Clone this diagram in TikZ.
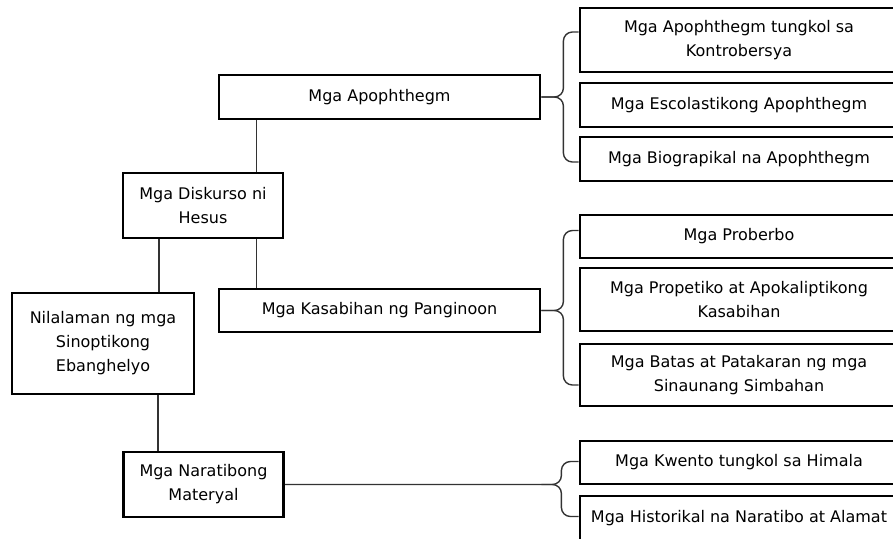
\documentclass[tikz,border=0pt]{standalone}
\usepackage{fontspec}
\setmainfont{DejaVu Sans}
\usetikzlibrary{calc}

\begin{document}
\begin{tikzpicture}[x=1pt,y=-1pt,
	box/.style={draw,rectangle,line width=2.8pt,align=center,inner sep=2pt,font=\fontsize{16}{24}\selectfont},
	link/.style={line width=1.4pt,black!80,rounded corners=9pt}]
	\useasboundingbox (0,0) rectangle (893,538);
	\node[box,minimum width=182,minimum height=101] (nil) at (103,343.5) {Nilalaman ng mga\\Sinoptikong\\Ebanghelyo};
	\node[box,minimum width=160,minimum height=65] (disk) at (203,205.5) {Mga Diskurso ni\\Hesus};
	\node[box,minimum width=160,minimum height=65] (narr) at (203.5,484.5) {Mga Naratibong\\Materyal};
	\node[box,minimum width=321,minimum height=44] (apo) at (379.5,97) {Mga Apophthegm};
	\node[box,minimum width=321,minimum height=43] (kas) at (379.5,310.5) {Mga Kasabihan ng Panginoon};
	\node[box,minimum width=318,minimum height=64] (r1) at (739,40) {Mga Apophthegm tungkol sa\\Kontrobersya};
	\node[box,minimum width=318,minimum height=44] (r2) at (739,105) {Mga Escolastikong Apophthegm};
	\node[box,minimum width=318,minimum height=44] (r3) at (739,159) {Mga Biograpikal na Apophthegm};
	\node[box,minimum width=318,minimum height=43] (r4) at (739,236.5) {Mga Proberbo};
	\node[box,minimum width=318,minimum height=63] (r5) at (739,299.5) {Mga Propetiko at Apokaliptikong\\Kasabihan};
	\node[box,minimum width=318,minimum height=62] (r6) at (739,375) {Mga Batas at Patakaran ng mga\\Sinaunang Simbahan};
	\node[box,minimum width=318,minimum height=43] (r7) at (739,462.5) {Mga Kwento tungkol sa Himala};
	\node[box,minimum width=318,minimum height=45] (r8) at (739,518.5) {Mga Historikal na Naratibo at Alamat};
	\coordinate (d1) at ($(disk.north west)!.83!(disk.north east)$);
	\coordinate (d2) at ($(disk.south west)!.23!(disk.south east)$);
	\coordinate (d3) at ($(disk.south west)!.83!(disk.south east)$);
	\coordinate (n1) at ($(narr.north west)!.22!(narr.north east)$);
	\coordinate (t3) at (narr.east -| kas.east);
	\draw[link] (d1) -- (d1 |- apo.south);
	\draw[link] (d2) -- (d2 |- nil.north);
	\draw[link] (d3) -- (d3 |- kas.north);
	\draw[link] (n1) -- (n1 |- nil.south);
	\draw[link] (apo.east) -- ++(22,0) |- ([yshift=8pt]r1.west);
	\draw[link] (apo.east) -- ++(22,0) |- ([yshift=-3pt]r3.west);
	\draw[link] (kas.east) -- ++(22,0) |- ([yshift=6pt]r4.west);
	\draw[link] (kas.east) -- ++(22,0) |- ([yshift=-10pt]r6.west);
	\draw[link] (narr.east) -- (t3) -- ++(20,0) |- ([yshift=1pt]r7.west);
	\draw[link] (t3) -- ++(20,0) |- ([yshift=2pt]r8.west);
\end{tikzpicture}
\end{document}
